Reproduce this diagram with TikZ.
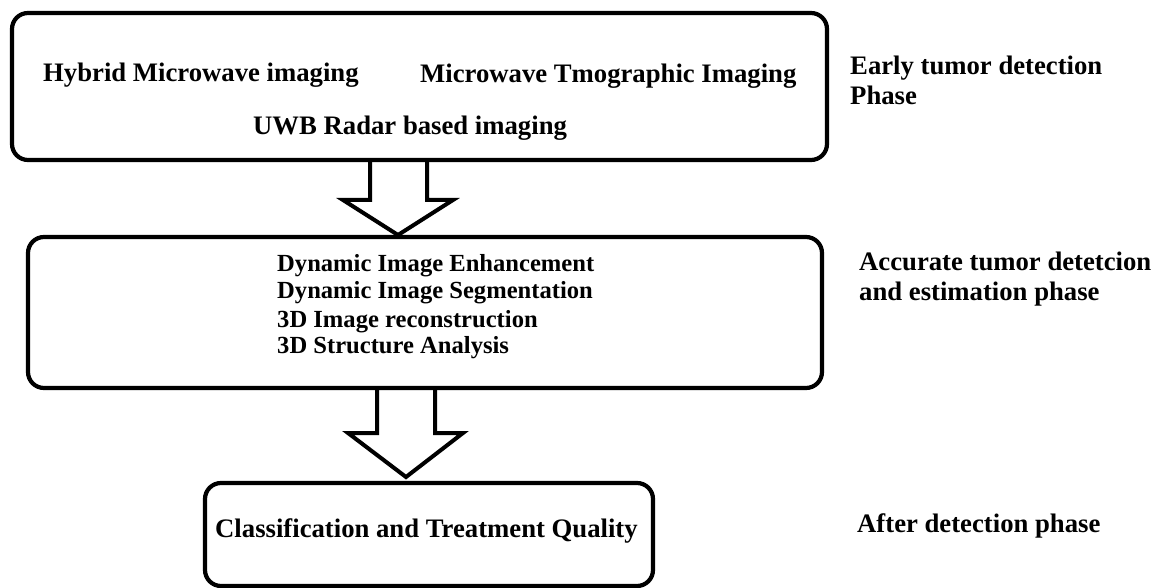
\documentclass[tikz,border=0pt]{standalone}
\usepackage{fontspec}
\setmainfont{Liberation Serif}
\tikzset{
  box/.style={draw=black, line width=4.2pt, rounded corners=16pt},
  blockarrow/.style={draw=black, line width=4pt, line join=miter},
  lbl/.style={anchor=base west, inner sep=0pt, font=\fontsize{26.7}{30}\selectfont\bfseries},
  small/.style={anchor=base west, inner sep=0pt, font=\fontsize{24.6}{28}\selectfont\bfseries}
}
\begin{document}
\begin{tikzpicture}[x=1pt,y=-1pt]
\useasboundingbox (0,0) rectangle (1162,588);
% boxes
\draw[box] (12,13) rectangle (827,160);
\draw[box] (28,237) rectangle (822,388);
\draw[box] (205,483) rectangle (653,586);
% arrow anchor points
\coordinate (a1l) at (370,160);
\coordinate (a1r) at (427,160);
\coordinate (a1tip) at (398,235);
\coordinate (a2l) at (377,388);
\coordinate (a2r) at (435,388);
\coordinate (a2tip) at (406,477);
% block arrows
\draw[blockarrow] (a1l) -- (370,200) -- (343,200) -- (a1tip) -- (453,200) -- (427,200) -- (a1r);
\draw[blockarrow] (a2l) -- (377,433) -- (348,433) -- (a2tip) -- (463,433) -- (435,433) -- (a2r);
% box 1 texts
\node[lbl] (t1) at (43,82) {Hybrid Microwave imaging};
\node[lbl] (t2) at (420,83) {Microwave Tmographic Imaging};
\node[lbl] (t3) at (253,135) {UWB Radar based imaging};
% box 2 texts
\node[small] (s1) at (277,271) {Dynamic Image Enhancement};
\node[small] (s2) at (277,298) {Dynamic Image Segmentation};
\node[small] (s3) at (277,327) {3D Image reconstruction};
\node[small] (s4) at (277,353) {3D Structure Analysis};
% box 3 text
\node[lbl] (c1) at (215,537) {Classification and Treatment Quality};
% phase labels
\node[lbl] (p1) at (850,75) {Early tumor detection};
\node[lbl] (p1b) at (850,105) {Phase};
\node[lbl] (p2) at (859,270) {Accurate tumor detetcion};
\node[lbl] (p2b) at (859,300) {and estimation phase};
\node[lbl] (p3) at (857,532) {After detection phase};
\end{tikzpicture}
\end{document}
